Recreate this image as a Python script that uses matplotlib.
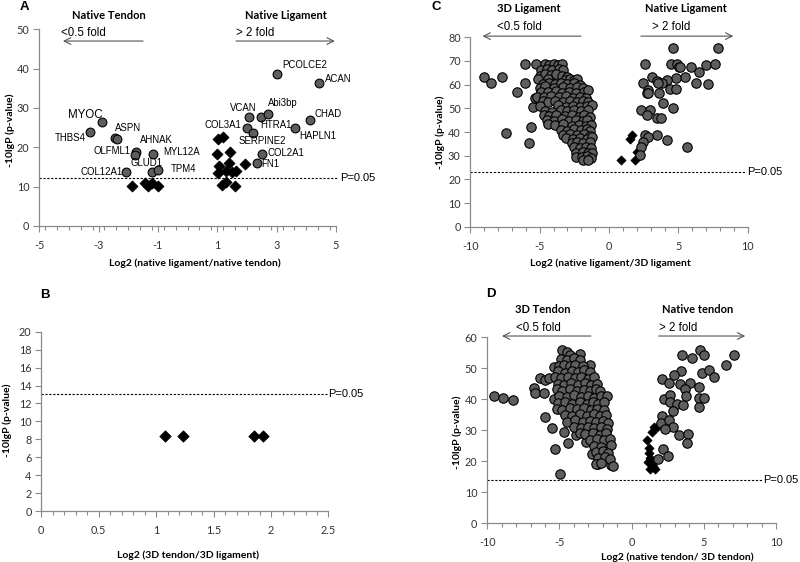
import matplotlib
matplotlib.use("Agg")
import matplotlib.pyplot as plt
from matplotlib.ticker import MultipleLocator, FuncFormatter

plt.rcParams['font.family'] = ['Lato', 'DejaVu Sans']

# ---------------- DATA ----------------
# Panel A : native ligament vs native tendon
A_circ_x = [-2.88, -3.29, -2.45, -2.37, -1.74, -1.76, -1.18, -1.21, -1.00, -2.06,
            3.01, 4.42, 2.07, 2.46, 2.70, 4.12, 2.00, 2.21, 3.63, 2.52, 2.34]
A_circ_y = [26.4, 23.9, 22.3, 22.0, 18.8, 18.1, 18.2, 13.8, 14.2, 13.75,
            38.5, 36.3, 27.8, 27.8, 28.5, 26.9, 25.0, 23.7, 24.8, 18.2, 16.1]
A_dia_x = [-1.86, -1.43, -1.34, -1.19, -1.01, 1.03, 1.18, 0.98, 1.43, 1.07, 1.38,
           1.03, 1.29, 1.48, 1.62, 1.93, 1.15, 1.29, 1.60]
A_dia_y = [10.1, 11.0, 10.1, 10.9, 10.2, 22.0, 22.5, 18.3, 18.7, 15.3, 15.9,
           13.5, 14.0, 13.8, 14.0, 15.7, 10.5, 11.2, 10.2]
A_genes = ['PCOLCE2', 'ACAN', 'VCAN', 'Abi3bp', 'CHAD', 'COL3A1', 'HTRA1', 'SERPINE2',
           'HAPLN1', 'COL2A1', 'FN1', 'MYOC', 'THBS4', 'ASPN', 'AHNAK', 'OLFML1',
           'MYL12A', 'GLUD1', 'TPM4', 'COL12A1']
A_pval_line = 12.2

# Panel B : 3D tendon vs 3D ligament
B_dia_x = [1.08, 1.23, 1.85, 1.93]
B_dia_y = [8.4, 8.4, 8.4, 8.4]
B_pval_line = 13.0

# Panel C : native ligament vs 3D ligament
C_circ_left_x = [-9.01, -8.49, -7.72, -6.66, -7.43, -6.03, -6.03, -5.63, -5.75, -5.29, -5.46, -5.34,
                 -4.6, -4.3, -4.0, -3.7, -3.4,
                 -4.9, -4.5, -4.1, -3.6, -3.3,
                 -5.0, -4.6, -4.2, -3.8, -3.4, -3.0,
                 -5.1, -4.4, -3.2, -2.85, -2.55, -2.3,
                 -4.8, -4.3, -3.9, -3.5, -3.0, -2.5, -2.1,
                 -5.0, -4.6, -4.0, -3.3, -2.8, -2.3, -1.9,
                 -4.9, -4.4, -3.8, -3.4, -2.9, -2.4, -1.8, -1.55,
                 -5.2, -4.7, -4.2, -3.6, -3.1, -2.6, -2.1, -1.7,
                 -4.8, -4.4, -3.9, -3.3, -2.8, -2.3, -1.9, -1.5,
                 -4.95, -3.7, -3.1, -2.6, -2.1, -1.6, -1.2,
                 -4.6, -4.1, -3.5, -3.0, -2.5, -2.0, -1.5,
                 -4.7, -4.3, -3.8, -3.2, -2.7, -2.2, -1.8, -1.4,
                 -4.5, -4.0, -3.4, -2.9, -2.4, -1.9, -1.6,
                 -4.4, -3.9, -3.3, -2.7, -2.2, -1.7, -1.3,
                 -3.5, -3.0, -2.5, -2.0, -1.6, -1.35,
                 -3.3, -2.8, -2.3, -1.8, -1.4,
                 -3.1, -2.6, -2.1, -1.6, -1.25,
                 -2.7, -2.3, -1.9, -1.4,
                 -2.55, -2.1, -1.7, -1.3,
                 -2.4, -1.9, -1.5, -1.2,
                 -2.35, -1.95, -1.6, -1.3,
                 -1.9, -1.5]
C_circ_left_y = [63.1, 60.6, 63.2, 56.9, 39.7, 60.7, 68.7, 42.0, 35.2, 68.7, 50.7, 54.2,
                 68.6, 68.3, 68.7, 68.4, 68.6,
                 66.3, 66.8, 66.2, 66.6, 66.0,
                 63.8, 64.3, 63.9, 64.4, 63.6, 63.2,
                 62.2, 62.6, 62.0, 62.4, 61.8, 62.3,
                 60.4, 60.9, 60.2, 60.7, 60.3, 60.6, 60.0,
                 58.8, 59.3, 58.7, 59.2, 58.6, 59.1, 58.5,
                 57.1, 56.7, 57.3, 56.6, 57.0, 56.5, 56.9, 57.6,
                 55.0, 54.6, 55.3, 54.8, 55.2, 54.5, 55.0, 54.4,
                 53.0, 52.6, 53.3, 52.8, 53.1, 52.5, 53.0, 52.6,
                 50.8, 51.2, 50.6, 51.1, 50.5, 51.0, 51.4,
                 49.0, 48.6, 49.2, 48.7, 49.3, 48.8, 49.1,
                 47.2, 46.8, 47.3, 46.6, 47.1, 46.5, 47.0, 46.4,
                 45.0, 44.6, 45.3, 44.7, 45.2, 44.6, 45.1,
                 43.4, 42.9, 43.2, 42.7, 43.1, 42.6, 43.0,
                 41.0, 40.6, 41.2, 40.7, 41.1, 40.5,
                 38.8, 39.2, 38.6, 39.0, 38.5,
                 37.4, 37.0, 37.6, 37.1, 37.7,
                 35.4, 35.8, 35.2, 35.6,
                 33.6, 33.2, 33.8, 33.3,
                 31.3, 31.7, 31.2, 31.0,
                 29.6, 29.3, 29.8, 29.2,
                 28.3, 28.1]
C_circ_right_x = [2.60, 4.64, 7.88, 4.45, 4.88, 5.07, 5.89, 6.49, 6.97, 7.64, 7.12, 6.27,
                  5.48, 4.83, 4.20, 3.80, 3.08, 3.44, 2.43, 2.84, 2.77, 3.63, 4.40, 4.83,
                  3.92, 4.59, 2.28, 2.96, 2.77, 3.44, 3.73, 2.60, 3.49, 4.16, 5.60, 2.84,
                  2.43, 2.28, 2.24, 5.12, 3.55, 2.83]
C_circ_right_y = [68.7, 75.4, 75.3, 68.6, 68.6, 67.6, 67.3, 65.5, 68.3, 68.7, 60.1, 60.6,
                  63.4, 63.0, 62.0, 60.8, 63.1, 61.7, 60.6, 57.7, 56.6, 56.6, 58.0, 58.0,
                  52.1, 50.0, 49.3, 49.3, 47.2, 45.8, 45.8, 38.7, 38.7, 36.6, 33.8, 38.0,
                  35.9, 33.8, 30.3, 67.6, 60.6, 56.3]
C_dia_x = [0.85, 1.50, 1.68, 2.00, 1.90]
C_dia_y = [28.3, 37.0, 38.6, 31.7, 28.0]
C_pval_line = 23.0

# Panel D : native tendon vs 3D tendon
D_circ_left_x = [-9.52, -8.94, -8.18, -6.79, -6.67, -6.33, -6.10, -5.98, -5.75, -6.00, -5.50,
                 -5.28, -4.95, -4.71, -4.40, -3.82, -3.15, -2.75, -2.30, -1.41, -2.86, -5.40,
                 -4.8, -4.5, -4.25, -3.57,
                 -4.9, -4.5, -4.0, -3.6,
                 -5.0, -4.7, -4.3, -3.9, -3.4,
                 -5.1, -4.6, -4.1, -3.7, -3.3, -2.9,
                 -5.3, -4.9, -4.4, -3.9, -3.5, -3.0, -2.6,
                 -5.1, -4.7, -4.2, -3.7, -3.2, -2.8, -2.4,
                 -5.2, -4.8, -4.3, -3.8, -3.3, -2.9, -2.5, -2.2,
                 -5.4, -5.0, -4.5, -4.0, -3.5, -3.0, -2.6, -2.1, -1.7,
                 -5.1, -4.6, -4.1, -3.6, -3.1, -2.7, -2.3, -1.9,
                 -5.2, -4.8, -4.3, -3.8, -3.3, -2.8, -2.4, -1.9,
                 -4.6, -4.1, -3.6, -3.1, -2.6, -2.2, -1.8,
                 -4.5, -3.9, -3.4, -2.9, -2.5, -2.0, -1.6,
                 -4.0, -3.5, -3.0, -2.6, -2.1, -1.7,
                 -3.6, -3.2, -2.7, -2.2, -1.75,
                 -2.9, -2.4, -1.9, -1.5,
                 -2.6, -2.1, -1.45,
                 -2.5, -2.0, -1.6,
                 -2.3, -1.85, -1.5,
                 -2.45, -2.15, -1.3]
D_circ_left_y = [41.1, 40.3, 39.8, 43.5, 41.9, 46.8, 41.9, 46.2, 46.8, 34.3, 30.6,
                 23.8, 16.0, 29.6, 25.8, 28.6, 26.3, 22.4, 19.2, 18.8, 51.1, 50.5,
                 55.9, 55.2, 54.4, 54.5,
                 53.0, 52.6, 53.2, 52.7,
                 50.8, 51.2, 50.7, 51.1, 50.6,
                 49.0, 48.6, 49.2, 48.7, 49.3, 48.8,
                 47.2, 46.8, 47.3, 46.7, 47.1, 46.6, 47.2,
                 45.0, 44.6, 45.3, 44.7, 45.2, 44.6, 45.0,
                 43.2, 42.8, 43.3, 42.7, 43.1, 42.6, 43.2, 42.7,
                 40.2, 41.2, 40.7, 41.3, 40.6, 41.1, 40.5, 41.0, 40.9,
                 38.8, 39.2, 38.6, 39.1, 38.5, 39.0, 38.6, 39.1,
                 37.0, 36.6, 37.2, 36.7, 37.1, 36.5, 37.0, 36.4,
                 35.0, 34.6, 35.2, 34.7, 35.1, 34.5, 35.0,
                 32.8, 33.2, 32.7, 33.1, 32.6, 33.0, 32.5,
                 31.0, 30.6, 31.2, 30.7, 31.1, 30.5,
                 29.0, 28.7, 29.2, 28.6, 29.1,
                 27.0, 27.3, 26.8, 27.1,
                 25.0, 24.6, 25.3,
                 23.0, 23.3, 22.8,
                 21.0, 21.3, 20.8,
                 19.0, 19.3, 18.6]
D_circ_right_x = [3.49, 4.18, 4.76, 5.03, 7.06, 6.53, 3.42, 2.91, 4.87, 5.38, 5.68, 2.10,
                  2.56, 3.37, 4.01, 4.64, 3.72, 2.21, 2.68, 3.79, 4.64, 5.03, 2.63, 3.14,
                  3.56, 4.64, 2.86, 2.10, 2.03, 2.56, 2.86, 2.33, 3.25, 3.88, 3.83, 2.17,
                  2.49, 1.80]
D_circ_right_y = [54.3, 53.2, 55.9, 54.3, 54.3, 51.1, 49.2, 47.8, 48.4, 49.5, 47.1, 46.5,
                  45.2, 44.9, 45.2, 44.1, 43.2, 40.0, 41.4, 41.1, 40.3, 40.3, 39.2, 38.5,
                  38.2, 37.6, 36.3, 34.6, 32.5, 33.3, 31.0, 30.3, 28.5, 28.8, 25.8, 23.9,
                  21.7, 20.6]
D_dia_x = [1.57, 1.41, 1.73, 1.05, 1.22, 1.18, 1.30, 1.11, 1.41, 1.28, 1.60, 1.45]
D_dia_y = [31.0, 29.5, 31.2, 26.9, 24.2, 22.6, 21.2, 19.9, 19.1, 17.5, 17.6, 18.4]
D_pval_line = 13.8

# ---------------- STYLE ----------------
CIRC_FC = '#5e5e5e'
SPINE = '#8a8a8a'
TICKC = '#333333'
ARIAL = ['Liberation Sans', 'DejaVu Sans']

fig = plt.figure(figsize=(8, 5.62), dpi=100)
axA = fig.add_axes([0.049, 0.598, 0.371, 0.350])
axC = fig.add_axes([0.588, 0.5966, 0.3467, 0.337])
axB = fig.add_axes([0.0516, 0.0907, 0.359, 0.319])
axD = fig.add_axes([0.609, 0.0689, 0.361, 0.331])


def style(ax, xlim, ylim, xmaj, xmin, ymaj):
    ax.set_xlim(*xlim)
    ax.set_ylim(*ylim)
    for s in ('top', 'right'):
        ax.spines[s].set_visible(False)
    for s in ('left', 'bottom'):
        ax.spines[s].set_color(SPINE)
        ax.spines[s].set_linewidth(0.9)
    ax.xaxis.set_major_locator(MultipleLocator(xmaj))
    ax.xaxis.set_minor_locator(MultipleLocator(xmin))
    ax.yaxis.set_major_locator(MultipleLocator(ymaj))
    ax.xaxis.set_major_formatter(FuncFormatter(lambda v, p: '%g' % v))
    ax.tick_params(which='both', direction='out', color=SPINE, width=0.8,
                   labelsize=7.8, labelcolor=TICKC)
    ax.tick_params(which='major', length=4)
    ax.tick_params(which='minor', length=3)
    ax.tick_params(axis='x', which='major', pad=6)
    ax.tick_params(axis='y', which='major', pad=3)
    ax.patch.set_alpha(0)


def labels(ax, xl, xpos, yl, ypos):
    ax.set_xlabel(xl, fontsize=7.5, fontweight='bold', va='center')
    ax.xaxis.set_label_coords(*xpos)
    ax.set_ylabel(yl, fontsize=7.5, fontweight='bold', va='center')
    ax.yaxis.set_label_coords(*ypos)


def circles(ax, x, y, s=42):
    ax.scatter(x, y, s=s, marker='o', facecolor=CIRC_FC, edgecolor='black',
               linewidth=0.8, zorder=3, clip_on=False)


def diamonds(ax, x, y, s=30):
    ax.scatter(x, y, s=s, marker='D', facecolor='black', edgecolor='black',
               linewidth=0.5, zorder=2, clip_on=False)


def pline(ax, x0, x1, y, tx):
    ax.plot([x0, x1], [y, y], ls=(0, (2, 1.5)), color='black', lw=0.8, zorder=1,
            clip_on=False)
    ax.text(tx, y, 'P=0.05', family=ARIAL, fontsize=8, ha='left', va='center',
            clip_on=False)


def header(ax, letter, lp, t1, p1, t2, p2, f1, f2, arrL, arrR, ay):
    ax.text(*lp, letter, family=ARIAL, fontsize=9.5, fontweight='bold',
            ha='center', va='center', clip_on=False)
    ax.text(*p1, t1, fontsize=8, fontweight='bold', ha='center', va='center',
            clip_on=False)
    ax.text(*p2, t2, fontsize=8, fontweight='bold', ha='center', va='center',
            clip_on=False)
    ax.text(*f1, '<0.5 fold', family=ARIAL, fontsize=8.3, ha='left', va='center',
            clip_on=False)
    ax.text(*f2, '> 2 fold', family=ARIAL, fontsize=8.3, ha='left', va='center',
            clip_on=False)
    for (a, b) in (arrL, arrR):
        ax.annotate('', xy=(b, ay), xytext=(a, ay), annotation_clip=False,
                    arrowprops=dict(arrowstyle='->', color='#555555', lw=0.8,
                                    shrinkA=0, shrinkB=0, mutation_scale=12))


# ---------- Panel A ----------
style(axA, (-5, 5), (0, 50), 2, 0.4, 10)
axA.set_xticks([-5, -3, -1, 1, 3, 5])
pline(axA, -5, 5.08, A_pval_line, 5.13)
diamonds(axA, A_dia_x, A_dia_y, s=32)
circles(axA, A_circ_x, A_circ_y, s=40)
# (x, y, horizontal alignment)
A_label_pos = [(3.20, 40.8, 'left'), (4.63, 37.4, 'left'), (1.44, 30.1, 'left'),
               (2.72, 31.3, 'left'), (4.29, 28.4, 'left'), (1.80, 25.6, 'right'),
               (2.44, 25.6, 'left'), (1.73, 21.7, 'left'), (3.76, 22.8, 'left'),
               (2.70, 18.6, 'left'), (2.49, 15.7, 'left'), (-4.02, 28.1, 'left'),
               (-3.44, 22.3, 'right'), (-2.45, 25.0, 'left'), (-1.61, 21.8, 'left'),
               (-1.92, 19.0, 'right'), (-0.82, 18.8, 'left'), (-1.91, 15.9, 'left'),
               (-0.57, 14.4, 'left'), (-2.20, 13.75, 'right')]
for g, (gx, gy, gha) in zip(A_genes, A_label_pos):
    axA.text(gx, gy, g, family=ARIAL, fontsize=8.3 if g == 'MYOC' else 6.9,
             ha=gha, va='center', zorder=4)
header(axA, 'A', (-5.5, 55.7), 'Native Tendon', (-2.65, 53.4), 'Native Ligament',
       (3.3, 53.4), (-4.26, 49.0), (1.64, 49.0), (-1.5, -4.2), (1.63, 4.96), 47.0)
labels(axA, 'Log2 (native ligament/native tendon)', (0.525, -0.188),
       '-10lgP (p-value)', (-0.099, 0.487))

# ---------- Panel C ----------
style(axC, (-10, 10), (0, 80), 5, 1, 10)
pline(axC, -10, 9.8, C_pval_line, 9.95)
diamonds(axC, C_dia_x, C_dia_y, s=22)
circles(axC, C_circ_left_x, C_circ_left_y, s=46)
circles(axC, C_circ_right_x, C_circ_right_y, s=46)
header(axC, 'C', (-12.45, 92.9), '3D Ligament', (-5.78, 92.2), 'Native Ligament',
       (5.57, 92.2), (-8.05, 84.2), (3.1, 84.2), (-2.02, -9.13), (2.29, 8.96), 80.5)
labels(axC, 'Log2 (native ligament/3D ligament', (0.504, -0.192),
       '-10lgP (p-value)', (-0.11, 0.50))

# ---------- Panel B ----------
style(axB, (0, 2.5), (0, 20), 0.5, 0.1, 2)
pline(axB, 0, 2.49, B_pval_line, 2.5)
diamonds(axB, B_dia_x, B_dia_y, s=34)
axB.text(0.034, 24.1, 'B', family=ARIAL, fontsize=9.5, fontweight='bold',
         ha='center', va='center', clip_on=False)
labels(axB, 'Log2 (3D tendon/3D ligament)', (0.51, -0.245),
       '-10lgP (p-value)', (-0.12, 0.507))

# ---------- Panel D ----------
style(axD, (-10, 10), (0, 60), 5, 1, 10)
pline(axD, -10, 9.03, D_pval_line, 9.08)
diamonds(axD, D_dia_x, D_dia_y, s=22)
circles(axD, D_circ_left_x, D_circ_left_y, s=46)
circles(axD, D_circ_right_x, D_circ_right_y, s=46)
header(axD, 'D', (-9.75, 73.9), '3D Tendon', (-6.14, 69.0), 'Native tendon',
       (4.6, 69.0), (-8.0, 63.1), (1.9, 63.1), (-2.82, -8.98), (1.87, 7.87), 60.4)
labels(axD, 'Log2 (native tendon/ 3D tendon)', (0.657, -0.18),
       '-10lgP (p-value)', (-0.103, 0.49))

fig.savefig('out.png', dpi=100)
